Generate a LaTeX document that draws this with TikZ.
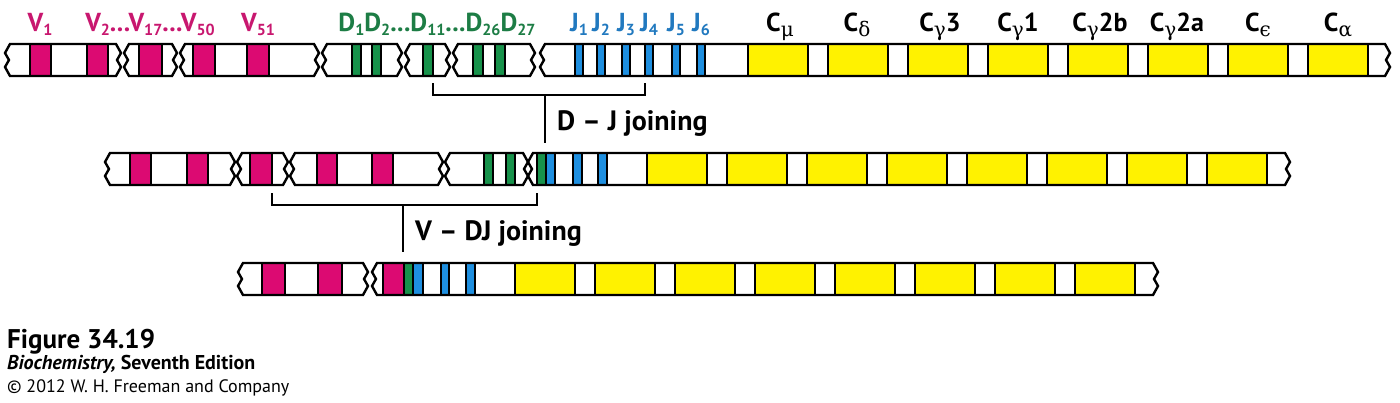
\documentclass[tikz,border=0pt]{standalone}
\usepackage{fontspec}
\setmainfont{PT Sans}
\newfontfamily\grk{DejaVu Serif}
\usetikzlibrary{positioning}
\usepackage{xcolor}

\definecolor{vpink}{HTML}{DC0A72}
\definecolor{vtext}{HTML}{C8176F}
\definecolor{dgreen}{HTML}{17924B}
\definecolor{dtext}{HTML}{1D7D45}
\definecolor{jblue}{HTML}{1E8FE0}
\definecolor{jtext}{HTML}{2179BF}
\definecolor{cyellow}{HTML}{FFF200}

% outline of one DNA piece with broken ends: inner left x, inner right x, top y
\newcommand{\geneseg}[3]{%
  \draw[seg] (#1,#3) -- (#2,#3) -- ++(5,9) -- ++(-4,7) -- ++(4,7) -- ++(-5,9)
    -- (#1,#3+32) -- ++(-5,-9) -- ++(4,-7) -- ++(-4,-7) -- cycle;}
% one gene segment: left x, right x, top y, colour
\newcommand{\genebox}[4]{\draw[gene, fill=#4] (#1,#3) rectangle (#2,#3+32);}
% small subscripts and tight dots for the labels
\newcommand{\lo}[1]{\raisebox{-4.5pt}{\fontsize{16}{16}\selectfont #1}}
\newcommand{\gk}[1]{\raisebox{-5pt}{\fontsize{20}{20}\selectfont{\grk\mdseries #1}}}
\newcommand{\dotsx}{.\kern0.5pt.\kern0.5pt.}

\begin{document}
\begin{tikzpicture}[
        x=1pt, y=-1pt,
        seg/.style={line width=2.4pt, line join=miter},
        gene/.style={line width=2.2pt},
        lbl/.style={anchor=base, inner sep=0pt, font=\fontsize{26}{30}\selectfont\bfseries},
        vlbl/.style={lbl, text=vtext},
        dlbl/.style={lbl, text=dtext},
        jlbl/.style={lbl, text=jtext},
        clbl/.style={lbl, text=black},
        bracket/.style={line width=2.4pt},
        joinlbl/.style={anchor=base west, inner sep=0pt, font=\fontsize{28}{32}\selectfont\bfseries}
    ]
        \useasboundingbox (0,0) rectangle (1400,402);

        % Germline DNA
        \foreach \a/\b in {30/51, 87/108, 139/162, 193/215, 247/269}
            \genebox{\a}{\b}{44}{vpink};
        \foreach \a/\b in {352/361, 372/381, 423/433, 473/483, 495/505}
            \genebox{\a}{\b}{44}{dgreen};
        \foreach \a/\b in {575/583, 597/605, 622/630, 645/653, 672/680, 697/705}
            \genebox{\a}{\b}{44}{jblue};
        \foreach \k in {0,...,7}
            \genebox{748+80*\k}{808+80*\k}{44}{cyellow};
        \geneseg{10}{116}{44}
        \geneseg{129}{172}{44}
        \geneseg{185}{314}{44}
        \geneseg{327}{397}{44}
        \geneseg{410}{445}{44}
        \geneseg{458}{530}{44}
        \geneseg{545}{1385}{44}

        % Labels
        \node[vlbl] (v1) at (40,31) {V\lo{1}};
        \node[vlbl] (v2) at (150,31) {V\lo{2}\dotsx V\lo{17}\dotsx V\lo{50}};
        \node[vlbl] (v51) at (258,31) {V\lo{51}};
        \node[dlbl] (d) at (437,31) {D\lo{1}D\lo{2}\dotsx D\lo{11}\dotsx D\lo{26}D\lo{27}};
        \foreach \x/\n in {579/1, 601/2, 626/3, 649/4, 676/5, 701/6}
            \node[jlbl] (j\n) at (\x,31) {J\lo{\n}};
        \node[clbl] (cmu) at (780,31) {C\gk{μ}};
        \node[clbl] (cdelta) at (857,31) {C\gk{δ}};
        \node[clbl] (cg3) at (940,31) {C\gk{γ}3};
        \node[clbl] (cg1) at (1018,31) {C\gk{γ}1};
        \node[clbl] (cg2b) at (1100,31) {C\gk{γ}2b};
        \node[clbl] (cg2a) at (1177,31) {C\gk{γ}2a};
        \node[clbl] (ceps) at (1258,31) {C\gk{ϵ}};
        \node[clbl] (calpha) at (1338,31) {C\gk{α}};

        % D-J joining
        \coordinate (dj-a) at (433,83);
        \coordinate (dj-b) at (645,83);
        \coordinate (dj-top) at (545,95);
        \coordinate (dj-bot) at (545,143);
        \draw[bracket] (dj-a) -- ++(0,12) -| (dj-b);
        \draw[bracket] (dj-top) -- (dj-bot);
        \node[joinlbl] (dj) at (557,130) {D -- J joining};

        % After D-J joining
        \foreach \a/\b in {130/151, 187/208, 250/272, 317/337, 372/393}
            \genebox{\a}{\b}{153}{vpink};
        \foreach \a/\b in {484/493, 506/515, 537/546}
            \genebox{\a}{\b}{153}{dgreen};
        \foreach \a/\b in {546/555, 573/582, 598/607}
            \genebox{\a}{\b}{153}{jblue};
        \foreach \k in {0,...,7}
            \genebox{647+80*\k}{707+80*\k}{153}{cyellow};
        \geneseg{110}{230}{153}
        \geneseg{242}{283}{153}
        \geneseg{295}{438}{153}
        \geneseg{450}{523}{153}
        \geneseg{533}{1285}{153}

        % V-DJ joining
        \coordinate (vdj-a) at (272,193);
        \coordinate (vdj-b) at (537,193);
        \coordinate (vdj-top) at (403,205);
        \coordinate (vdj-bot) at (403,252);
        \draw[bracket] (vdj-a) -- ++(0,12) -| (vdj-b);
        \draw[bracket] (vdj-top) -- (vdj-bot);
        \node[joinlbl] (vdj) at (415,240) {V -- DJ joining};

        % After V-DJ joining
        \foreach \a/\b in {262/285, 318/342, 383/404}
            \genebox{\a}{\b}{263}{vpink};
        \genebox{404}{413}{263}{dgreen};
        \foreach \a/\b in {413/423, 441/449, 466/475}
            \genebox{\a}{\b}{263}{jblue};
        \foreach \k in {0,...,7}
            \genebox{515+80*\k}{575+80*\k}{263}{cyellow};
        \geneseg{243}{363}{263}
        \geneseg{377}{1153}{263}

        % Caption
        \node[anchor=base west, inner sep=0pt, font=\fontsize{27}{31}\selectfont\bfseries] (fig) at (7,348) {Figure 34.19};
        \node[anchor=base west, inner sep=0pt, font=\fontsize{20}{24}\selectfont\bfseries] (book) at (7,369) {\textit{Biochemistry,} Seventh Edition};
        \node[anchor=base west, inner sep=0pt, font=\fontsize{18}{22}\selectfont] (copy) at (7,392) {© 2012 W. H. Freeman and Company};
    \end{tikzpicture}
\end{document}
